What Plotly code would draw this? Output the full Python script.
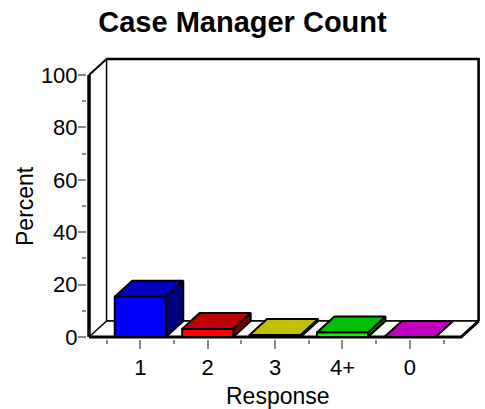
import plotly.graph_objects as go

# ---------------- data ----------------
categories = ["1", "2", "3", "4+", "0"]
percent = [15.4, 3.1, 0.8, 1.7, 0.0]
front_colors = ["#0000FF", "#FF0000", "#FFFF00", "#00FF00", "#FF00FF"]
top_colors = ["#0000C0", "#C00000", "#C0C000", "#00C000", "#C000C0"]
side_colors = ["#000080", "#800000", "#808000", "#008000", "#800080"]
y_ticks = [0, 20, 40, 60, 80, 100]
y_minor = [10, 30, 50, 70, 90]
x_minor = [-0.5, 0.5, 1.5, 2.5, 3.5, 4.5]

# ---------------- geometry ----------------
W, H = 485, 409
PX_L, PX_R, PX_T, PX_B = 87, 483, 55, 339
X_PER = 67.4      # px per category
Y_PER = 2.62      # px per percent
ZERO_PX = 337
x_lo = -0.79
x_hi = x_lo + (PX_R - PX_L) / X_PER
y_lo = -(PX_B - ZERO_PX) / Y_PER
y_hi = y_lo + (PX_B - PX_T) / Y_PER

n = len(categories)
pos = list(range(n))
HALF = 0.76
BW = 0.757
DX, DY = 0.26, 6.1
Y_MAX = 100
FL, FR = -HALF, n - 1 + HALF
FONT = "Liberation Sans, Arial, sans-serif"

fig = go.Figure()


def poly(xs, ys, fill, lw=2):
    fig.add_trace(go.Scatter(
        x=list(xs) + [xs[0]], y=list(ys) + [ys[0]], mode="lines",
        fill="toself", fillcolor=fill,
        line=dict(color="black", width=lw), hoverinfo="skip",
        showlegend=False))


def seg(xs, ys, lw):
    fig.add_trace(go.Scatter(
        x=xs, y=ys, mode="lines", line=dict(color="black", width=lw),
        hoverinfo="skip", showlegend=False))


# back wall
poly([FL + DX, FL + DX, FR + DX, FR + DX],
     [DY, Y_MAX + DY, Y_MAX + DY, DY], "white", 1.5)
seg([FL + DX, FR + DX, FR + DX], [Y_MAX + DY, Y_MAX + DY, DY], 2.5)
seg([FL, FL + DX], [Y_MAX, Y_MAX + DY], 2)

# floor
poly([FL, FR, FR + DX, FL + DX], [0, 0, DY, DY], "white", 1.5)
seg([FL, FR, FR + DX], [0, 0, DY], 3)

# front y axis line
seg([FL, FL], [0, Y_MAX], 3.5)

# bars
for c, v, fc, tc, sc in zip(pos, percent, front_colors, top_colors, side_colors):
    l, r = c - BW / 2, c + BW / 2
    poly([r, r, r + DX, r + DX], [0, v, v + DY, DY], sc, 2)
    poly([l, r, r + DX, l + DX], [v, v, v + DY, v + DY], tc, 2)
    if v > 0:
        poly([l, r, r, l], [0, 0, v, v], fc, 2)

fig.update_layout(
    width=W, height=H,
    margin=dict(l=PX_L, r=W - PX_R, t=PX_T, b=H - PX_B, pad=0),
    paper_bgcolor="white", plot_bgcolor="white",
    showlegend=False,
    font=dict(family=FONT, color="black"),
    title=dict(text="<b>Case Manager Count</b>", x=242.5 / W, xanchor="center",
               y=1 - 22 / H, yanchor="middle", yref="container",
               font=dict(size=29, family=FONT, color="black")),
    xaxis=dict(range=[x_lo, x_hi], tickmode="array", tickvals=pos,
               ticktext=categories, ticks="outside", ticklen=9, tickwidth=2,
               tickcolor="#8a8a8a", showgrid=False, zeroline=False,
               showline=False,
               tickfont=dict(size=22, family=FONT, color="black"),
               minor=dict(tickmode="array", tickvals=x_minor, ticks="outside",
                          ticklen=4, tickwidth=2, tickcolor="#8a8a8a"),
               fixedrange=True),
    yaxis=dict(range=[y_lo, y_hi], tickmode="array", tickvals=y_ticks,
               ticks="outside", ticklen=8, tickwidth=2, tickcolor="#8a8a8a",
               showgrid=False, zeroline=False, showline=False,
               ticklabelstandoff=-4,
               tickfont=dict(size=22, family=FONT, color="black"),
               minor=dict(tickmode="array", tickvals=y_minor, ticks="outside",
                          ticklen=4, tickwidth=2, tickcolor="#8a8a8a"),
               fixedrange=True),
    annotations=[
        dict(text="Percent", textangle=-90, xref="paper", yref="paper",
             x=(25 - PX_L) / (PX_R - PX_L), y=(PX_B - 206) / (PX_B - PX_T),
             xanchor="center", yanchor="middle", showarrow=False,
             font=dict(size=23, family=FONT, color="black")),
        dict(text="Response", xref="paper", yref="paper",
             x=(277.5 - PX_L) / (PX_R - PX_L), y=(PX_B - 396) / (PX_B - PX_T),
             xanchor="center", yanchor="middle", showarrow=False,
             font=dict(size=23, family=FONT, color="black")),
    ],
)

fig.write_html("out.html", config={"displayModeBar": False},
               post_script="document.body.style.margin='0px';"
                           "document.body.style.overflow='hidden';")
